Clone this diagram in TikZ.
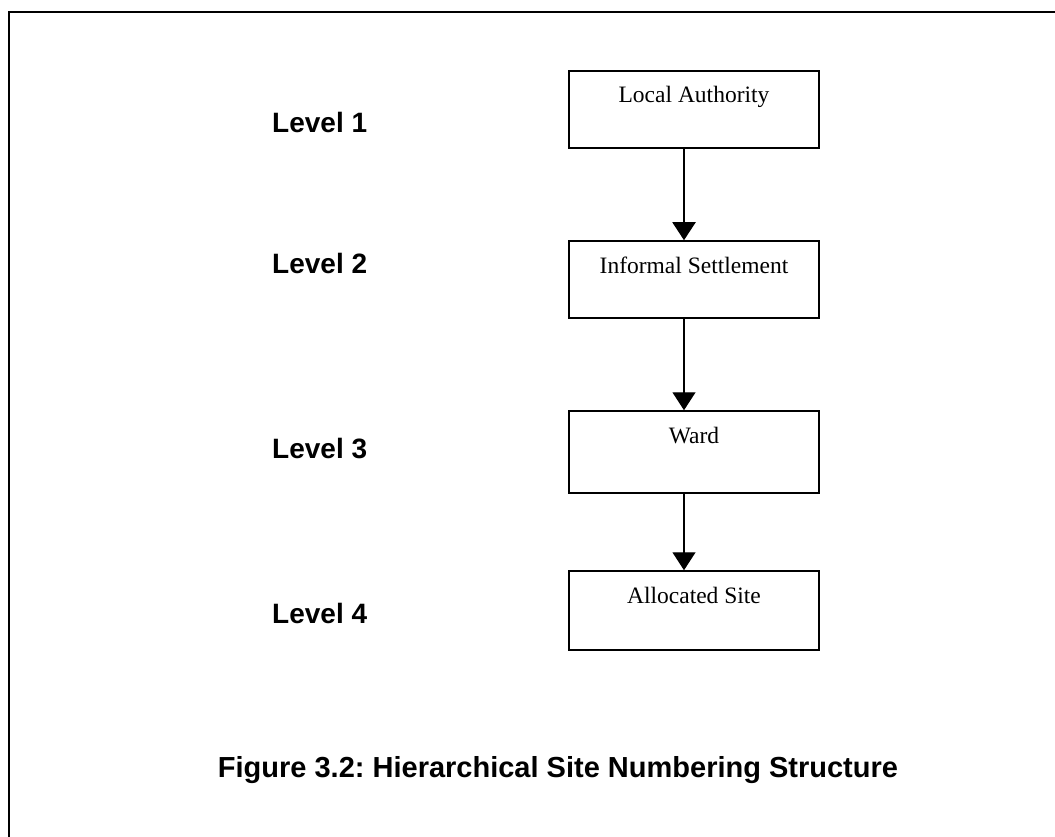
\documentclass[tikz,border=0pt]{standalone}
\usepackage{fontspec}
\setmainfont{Liberation Serif}
\newfontfamily\arialfont{Liberation Sans}
\usetikzlibrary{arrows.meta}
\frenchspacing
\begin{document}
\begin{tikzpicture}[x=1pt,y=-1pt,
  box/.style={draw=black,line width=1.5pt,rectangle,inner sep=0pt,
    minimum width=250pt,text height=32pt,anchor=base,
    font=\fontsize{23.5}{26}\selectfont},
  lvl/.style={anchor=base west,inner sep=0pt,
    font=\arialfont\bfseries\fontsize{28}{32}\selectfont},
  arr/.style={draw=black,line width=1.3pt,
    -{Triangle[width=23pt,length=18pt]}}]
\useasboundingbox (0,0) rectangle (1055,837);
\fill[white] (0,0) rectangle (1055,837);
% frame
\coordinate (fbl) at (9,840);
\coordinate (ftl) at (9,12);
\coordinate (ftr) at (1058,12);
\draw[line width=2pt] (fbl) -- (ftl) -- (ftr);
% boxes
\node[box,text depth=45pt] (la) at (694,103) {Local Authority};
\node[box,text depth=45pt] (is) at (694,273) {Informal Settlement};
\node[box,text depth=50pt] (wd) at (694,443) {Ward};
\node[box,text depth=47pt] (as) at (694,603) {Allocated Site};
% arrows
\draw[arr,line width=2pt] ([xshift=-10pt]la.south) -- ([xshift=-10pt]is.north);
\draw[arr] ([xshift=-10pt]is.south) -- ([xshift=-10pt]wd.north);
\draw[arr] ([xshift=-10pt]wd.south) -- ([xshift=-10pt]as.north);
% level labels
\node[lvl] (l1) at (272,133) {Level 1};
\node[lvl] (l2) at (272,273) {Level 2};
\node[lvl] (l3) at (272,458) {Level 3};
\node[lvl] (l4) at (272,623) {Level 4};
% caption
\node[anchor=base,inner sep=0pt,font=\arialfont\bfseries\fontsize{29}{34}\selectfont]
  (cap) at (558,777) {Figure 3.2: Hierarchical Site Numbering Structure};
\end{tikzpicture}
\end{document}
